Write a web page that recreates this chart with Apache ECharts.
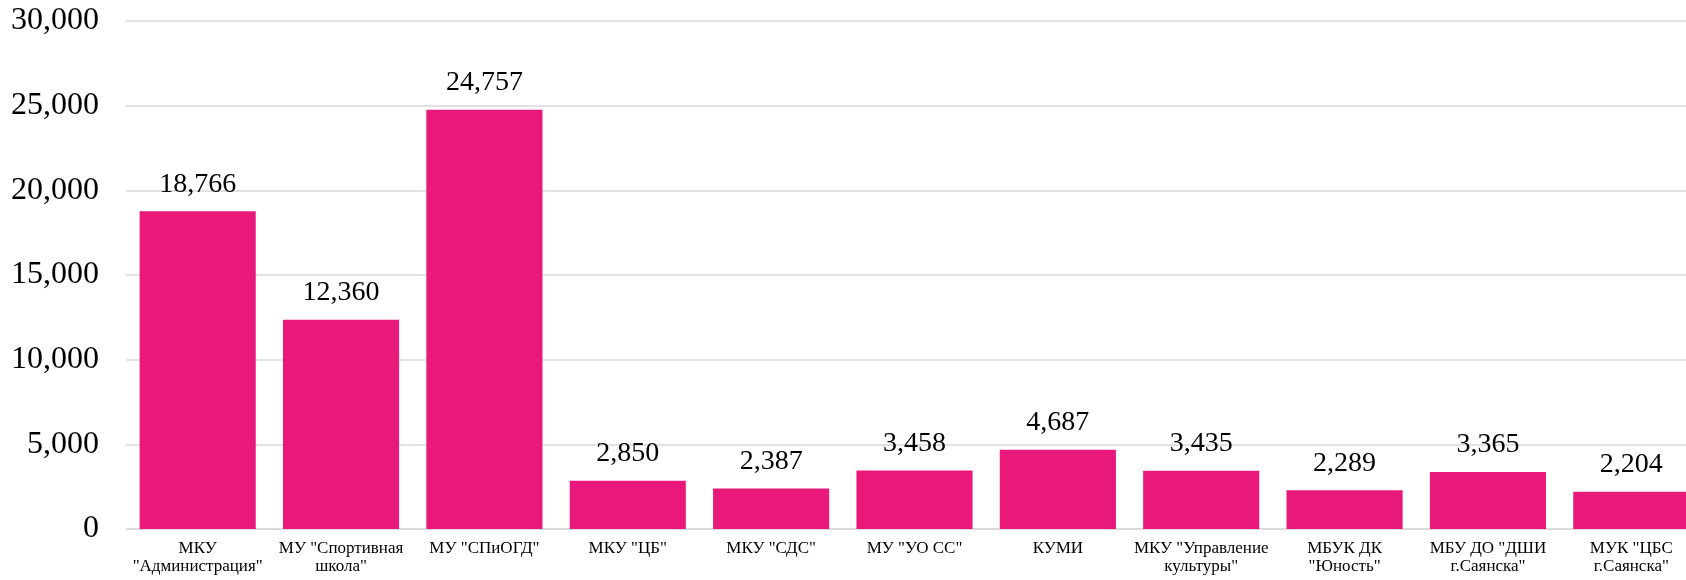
<!DOCTYPE html>
<html lang="ru">
<head>
    <meta charset="UTF-8">
    <title>Chart</title>
    <script src="https://cdn.jsdelivr.net/npm/echarts@6/dist/echarts.min.js"></script>
    <style>
        html, body { margin: 0; padding: 0; background: #fff; overflow: hidden; }
        /* график шире окна: последний столбец обрезан справа, как в оригинале */
        #main { width: 1720px; height: 580px; }
    </style>
</head>
<body>
<div id="main"></div>
<script>
    // категории (подписи по оси X)
    var categories = [
        'МКУ\n"Администрация"',
        'МУ "Спортивная\nшкола"',
        'МУ "СПиОГД"',
        'МКУ "ЦБ"',
        'МКУ "СДС"',
        'МУ "УО СС"',
        'КУМИ',
        'МКУ "Управление\nкультуры"',
        'МБУК ДК\n"Юность"',
        'МБУ ДО "ДШИ\nг.Саянска"',
        'МУК "ЦБС\nг.Саянска"'
    ];
    var values = [18766, 12360, 24757, 2850, 2387, 3458, 4687, 3435, 2289, 3365, 2204];
    var yTicks = [0, 5000, 10000, 15000, 20000, 25000, 30000];

    var font = '"Liberation Serif", "Times New Roman", serif';
    var fmt = function (v) { return Number(v).toLocaleString('en-US'); };

    var chart = echarts.init(document.getElementById('main'));
    chart.setOption({
        animation: false,
        grid: { left: 126, top: 21, width: 1577, height: 508 },
        xAxis: {
            type: 'category',
            data: categories,
            axisTick: { show: false },
            axisLine: { lineStyle: { color: '#d9d9d9', width: 1.5 } },
            axisLabel: {
                interval: 0,
                margin: 11,
                color: '#000',
                fontFamily: font,
                fontSize: 17,
                lineHeight: 18
            }
        },
        yAxis: {
            type: 'value',
            min: yTicks[0],
            max: yTicks[yTicks.length - 1],
            interval: yTicks[1] - yTicks[0],
            axisLine: { show: false },
            axisTick: { show: false },
            splitLine: { lineStyle: { color: '#d9d9d9', width: 1.5 } },
            axisLabel: {
                margin: 27,
                color: '#000',
                fontFamily: font,
                fontSize: 32,
                formatter: fmt
            }
        },
        series: [{
            type: 'bar',
            data: values,
            barCategoryGap: '19%',
            itemStyle: { color: '#E9187B' },
            label: {
                show: true,
                position: 'top',
                distance: 13,
                color: '#000',
                fontFamily: font,
                fontSize: 28,
                formatter: function (p) { return fmt(p.value); }
            }
        }]
    });
</script>
</body>
</html>
